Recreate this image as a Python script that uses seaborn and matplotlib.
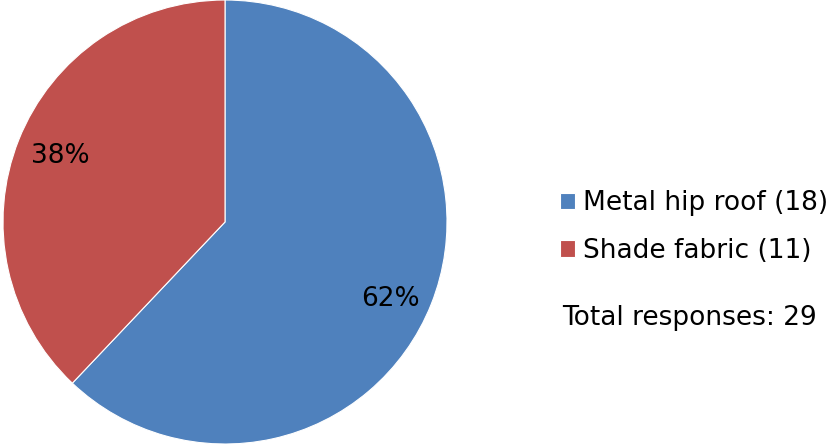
import matplotlib
matplotlib.use('Agg')
import matplotlib.pyplot as plt
import seaborn as sns

categories = ["Metal hip roof", "Shade fabric"]
counts = [18, 11]
total_label = "Total responses: 29"

sns.set_theme(style='white')
plt.rcParams['font.family'] = ['DejaVu Sans']
plt.rcParams['text.color'] = 'black'

colors = ['#4F81BD', '#C0504D']
fs = 19

fig = plt.figure(figsize=(8.37, 4.44), dpi=100)
ax = fig.add_axes([3 / 837, 0, 444 / 837, 1])
wedges, texts, autotexts = ax.pie(
    counts, colors=colors, startangle=90, counterclock=False,
    autopct=lambda p: f"{p:.0f}%", pctdistance=0.8,
    wedgeprops=dict(edgecolor='white', linewidth=0.8),
    textprops=dict(fontsize=fs, color='black'))
# Excel nudges the big label a bit lower
x0, y0 = autotexts[0].get_position()
autotexts[0].set_position((x0, y0 - 0.05))
ax.set_xlim(-1.0, 1.0)
ax.set_ylim(-1.0, 1.0)
ax.set_aspect('equal')

labels = [f"{c} ({n})" for c, n in zip(categories, counts)]
leg = fig.legend(wedges, labels, loc='upper left',
                 bbox_to_anchor=(560 / 837, 1 - 190 / 444),
                 frameon=False, fontsize=fs, handlelength=0.57, handleheight=0.57,
                 handletextpad=0.3, labelspacing=0.83, borderaxespad=0,
                 borderpad=0, labelcolor='black')
fig.text(562 / 837, 1 - 318 / 444, total_label, fontsize=fs,
         va='center', ha='left', color='black')

fig.savefig('out.png', dpi=100)
